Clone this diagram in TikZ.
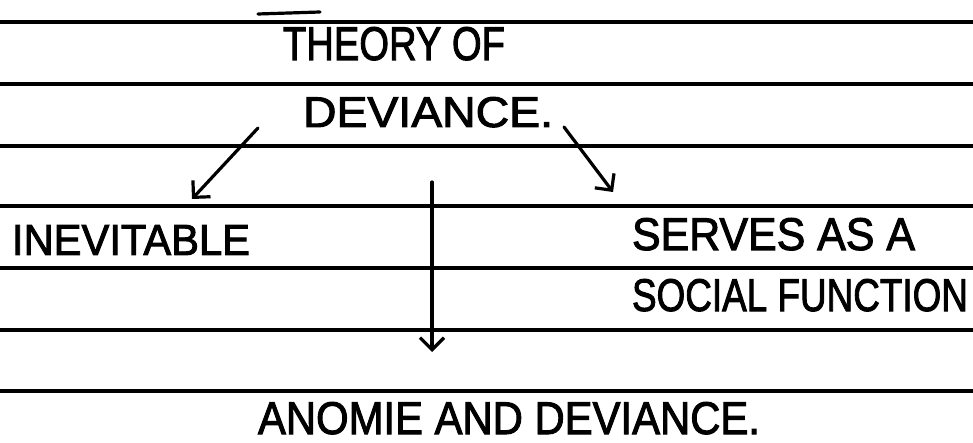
\documentclass[tikz,border=0pt]{standalone}
\usepackage{fontspec}
\setmainfont{Liberation Sans}
\newfontfamily\handfont[BoldFont={Liberation Sans}, BoldFeatures={FakeBold=2.2}]{Liberation Sans}
\usetikzlibrary{arrows.meta}
\tikzset{
  rule/.style={line width=3.2pt, black},
  hand/.style={inner sep=0pt, outer sep=0pt, anchor=base west, font=\handfont\bfseries\fontsize{40}{44}\selectfont},
  conn/.style={line width=3.2pt, line cap=round, -{Straight Barb[length=12pt,width=24pt,line width=3.2pt]}},
}
\begin{document}
\begin{tikzpicture}[x=1pt,y=-1pt]
\useasboundingbox (0,0) rectangle (973,443);
\fill[white] (0,0) rectangle (973,443);
% ruled lines
\foreach \yy in {22,84,146,206,268,330,391}
  \draw[rule] (0,\yy) -- (973,\yy);
% stroke above T
\draw[line width=3.2pt, line cap=round] (258,14) -- (320,12);
% texts
\node[hand] (theory) at (283,60) {\resizebox{222pt}{33pt}{THEORY OF}};
\node[hand] (dev) at (303,127) {\resizebox{250pt}{30pt}{DEVIANCE.}};
\node[hand] (inev) at (12,255) {\resizebox{238pt}{30pt}{INEVITABLE}};
\node[hand] (serves) at (632,250) {\resizebox{283pt}{32pt}{SERVES AS A}};
\node[hand] (social) at (632,311) {\resizebox{336pt}{32pt}{SOCIAL FUNCTION}};
\node[hand] (anomie) at (258,434) {\resizebox{502pt}{32pt}{ANOMIE AND DEVIANCE.}};
% connector end points
\coordinate (l0) at (258,128);
\coordinate (l1) at (192,199);
\coordinate (r0) at (564,127);
\coordinate (r1) at (613,192);
\coordinate (m0) at (432,182);
\coordinate (m1) at (432,352);
\draw[conn] (l0) -- (l1);
\draw[conn] (r0) -- (r1);
\draw[conn] (m0) -- (m1);
\end{tikzpicture}
\end{document}
